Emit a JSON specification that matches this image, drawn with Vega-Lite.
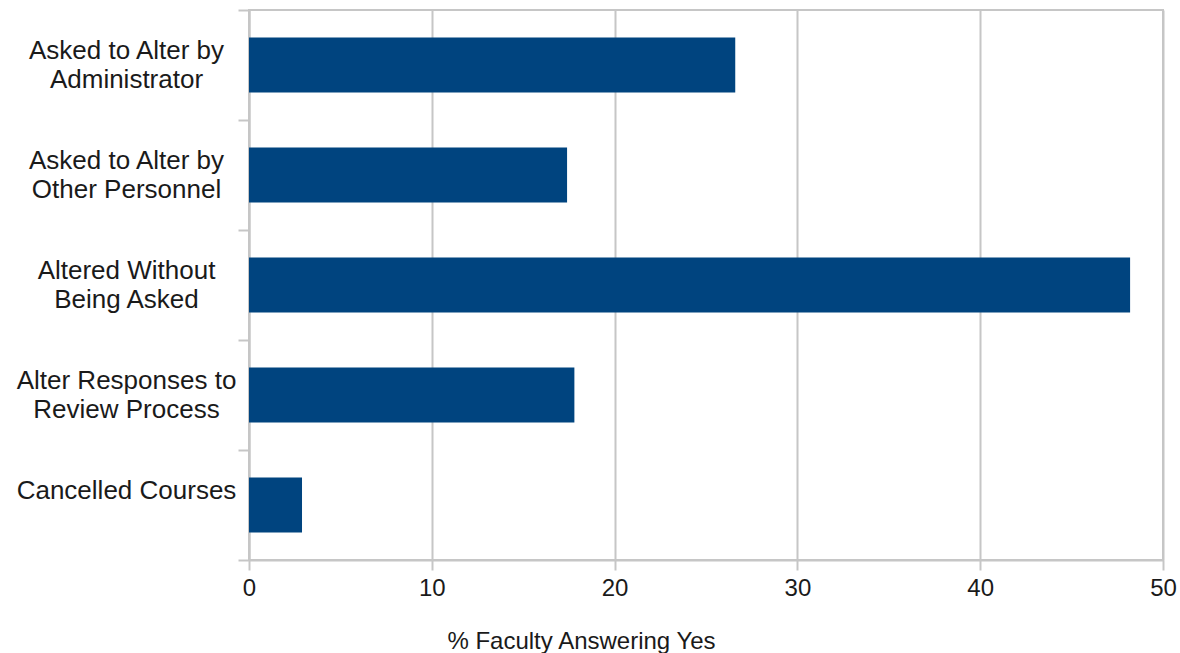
{
  "$schema": "https://vega.github.io/schema/vega-lite/v6.json",
  "width": 914,
  "height": 550,
  "autosize": "none",
  "padding": {"left": 249, "top": 10, "right": 17, "bottom": 93},
  "background": "#ffffff",
  "config": {
    "font": "Liberation Sans",
    "view": {"stroke": "#c6c6c6", "strokeWidth": 2},
    "axis": {
      "labelFont": "Liberation Sans",
      "titleFont": "Liberation Sans",
      "labelColor": "#1a1a1a",
      "titleColor": "#1a1a1a",
      "labelFontSize": 23,
      "titleFontSize": 24,
      "titleFontWeight": "normal",
      "gridColor": "#c6c6c6",
      "gridWidth": 2,
      "gridOpacity": 1,
      "domainColor": "#c6c6c6",
      "domainWidth": 2,
      "tickColor": "#c6c6c6",
      "tickWidth": 2
    }
  },
  "data": {
    "values": [
      {"category": "Asked to Alter by\nAdministrator", "pct": 26.6},
      {"category": "Asked to Alter by\nOther Personnel", "pct": 17.4},
      {"category": "Altered Without\nBeing Asked", "pct": 48.2},
      {"category": "Alter Responses to\nReview Process", "pct": 17.8},
      {"category": "Cancelled Courses", "pct": 2.9}
    ]
  },
  "mark": {"type": "bar", "color": "#00447f", "height": {"band": 0.5}},
  "encoding": {
    "y": {
      "field": "category",
      "type": "nominal",
      "sort": null,
      "scale": {"paddingInner": 0, "paddingOuter": 0},
      "axis": {
        "title": null,
        "tickBand": "extent",
        "tickSize": 11,
        "labelAlign": "center",
        "labelBaseline": "middle",
        "labelPadding": 112,
        "labelOffset": -14.5,
        "labelFontSize": 26,
        "labelLineHeight": 29,
        "labelExpr": "split(datum.label, '\\n')",
        "labelLimit": 400,
        "grid": false
      }
    },
    "x": {
      "field": "pct",
      "type": "quantitative",
      "scale": {"domain": [0, 50], "nice": false},
      "axis": {
        "title": "% Faculty Answering Yes",
        "values": [0, 10, 20, 30, 40, 50],
        "tickSize": 10,
        "labelPadding": 6,
        "labelFontSize": 24,
        "labelFlush": false,
        "titlePadding": 29,
        "titleAnchor": "middle",
        "titleX": 332,
        "grid": true
      }
    }
  }
}
